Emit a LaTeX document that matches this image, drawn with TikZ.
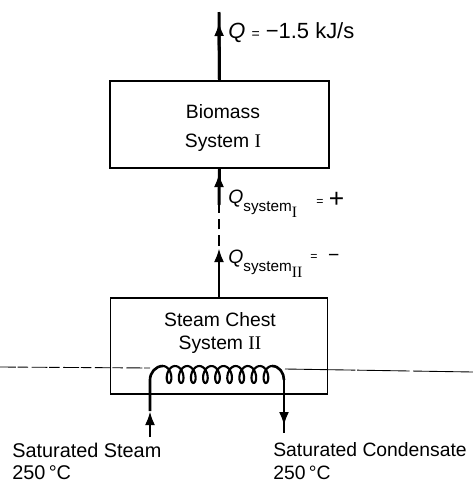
\documentclass[tikz,border=0pt]{standalone}
\usepackage{fontspec}
\setmainfont{Liberation Sans}
\newfontfamily\numfont{Liberation Serif}
\usepackage{tikz}
\usetikzlibrary{arrows.meta}
\newcommand{\qsys}[1]{\textit{Q}\raisebox{-4.5pt}{\fontsize{8.7}{9}\selectfont system\raisebox{-3.2pt}{\fontsize{9}{9}\selectfont\numfont #1}}}

\begin{document}
\begin{tikzpicture}[x=0.02cm,y=-0.02cm,font=\fontsize{11}{16.5}\selectfont,
  sysbox/.style={draw,line width=1pt,inner sep=0pt},
  lbl/.style={inner sep=0pt,anchor=west,align=left},
  flow/.style={line width=1.7pt},
  head/.style={line width=1.7pt,-{Latex[length=2.8mm,width=2mm]}},
  pipe/.style={line width=1.5pt}]
  \useasboundingbox (0,0) rectangle (473,481);
  \node[sysbox,minimum width=4.38cm,minimum height=1.74cm] (bio) at (219.5,124.5) {};
  \node[inner sep=0pt,align=center] (biotext) at (223,128) {Biomass\\System {\numfont I}};
  \node[sysbox,minimum width=4.34cm,minimum height=1.92cm] (chest) at (219,346) {};
  \node[inner sep=0pt,align=center,font=\fontsize{11}{13}\selectfont] (chesttext) at (220,333) {Steam Chest\\System {\numfont II}};
  % heat flow arrows
  \coordinate (qtop) at (219,12);
  \coordinate (qtophead) at (219,22);
  \coordinate (qone) at (219,173);
  \coordinate (dashtop) at (219,205);
  \coordinate (dashbot) at (219,246);
  \coordinate (qtwo) at (219,248);
  \draw[flow] (bio.north) -- (qtop);
  \draw[head] (bio.north) -- (qtophead);
  \draw[flow] (dashtop) -- (bio.south);
  \draw[head] (dashtop) -- (qone);
  \draw[flow,dash pattern=on 6pt off 3.5pt] (dashbot) -- (dashtop);
  \draw[head] (chest.north) -- (qtwo);
  \node[lbl,font=\fontsize{12.5}{14}\selectfont] (qout) at (228,33) {\textit{Q} {\fontsize{8}{8}\selectfont=} −1.5 kJ/s};
  \node[lbl] (qsysone) at (228,204) {\qsys{I}};
  \node[lbl] (qplus) at (316,200) {{\fontsize{7}{7}\selectfont\raisebox{1pt}{=}} \fontsize{15}{15}\selectfont +};
  \node[lbl] (qsystwo) at (228,264) {\qsys{II}};
  \node[lbl] (qminus) at (310,258) {{\fontsize{7}{7}\selectfont\raisebox{1pt}{=}}\hspace{6pt}−};
  % liquid level
  \coordinate (levelL) at (0,367);
  \coordinate (coilL) at (163,366);
  \coordinate (coilR) at (272,366);
  \coordinate (levelR) at (473,372);
  \draw[line width=0.5pt,dash pattern=on 9pt off 1pt on 6pt off 2pt] (levelL) -- (150,368);
  \draw[line width=0.5pt,dash pattern=on 40pt off 1pt on 30pt off 2pt] (285,369) -- (levelR);
  % coil
  \draw[line width=1.2pt] plot[smooth,samples=220,domain=0:3240] ({163+109*(\x/3240)+5*sin(\x)},{374.5-8.5*cos(\x)});
  \coordinate (steamin) at (150,437);
  \coordinate (steamhead) at (150,411);
  \coordinate (condhead) at (284,426);
  \coordinate (condout) at (284,433);
  \draw[pipe] (steamhead) -- (150,380) to[out=90,in=180] (coilL);
  \draw[head] (steamin) -- (steamhead);
  \draw[pipe] (coilR) to[out=0,in=90] (284,380);
  \draw[flow] (284,380) -- (condout);
  \draw[head] (284,380) -- (condhead);
  \node[lbl,font=\fontsize{11.3}{12.5}\selectfont] (steamlbl) at (12,461) {Saturated Steam\\250\,°C};
  \node[lbl,font=\fontsize{11}{12.8}\selectfont] (condlbl) at (273,461) {Saturated Condensate\\250\,°C};
\end{tikzpicture}
\end{document}
